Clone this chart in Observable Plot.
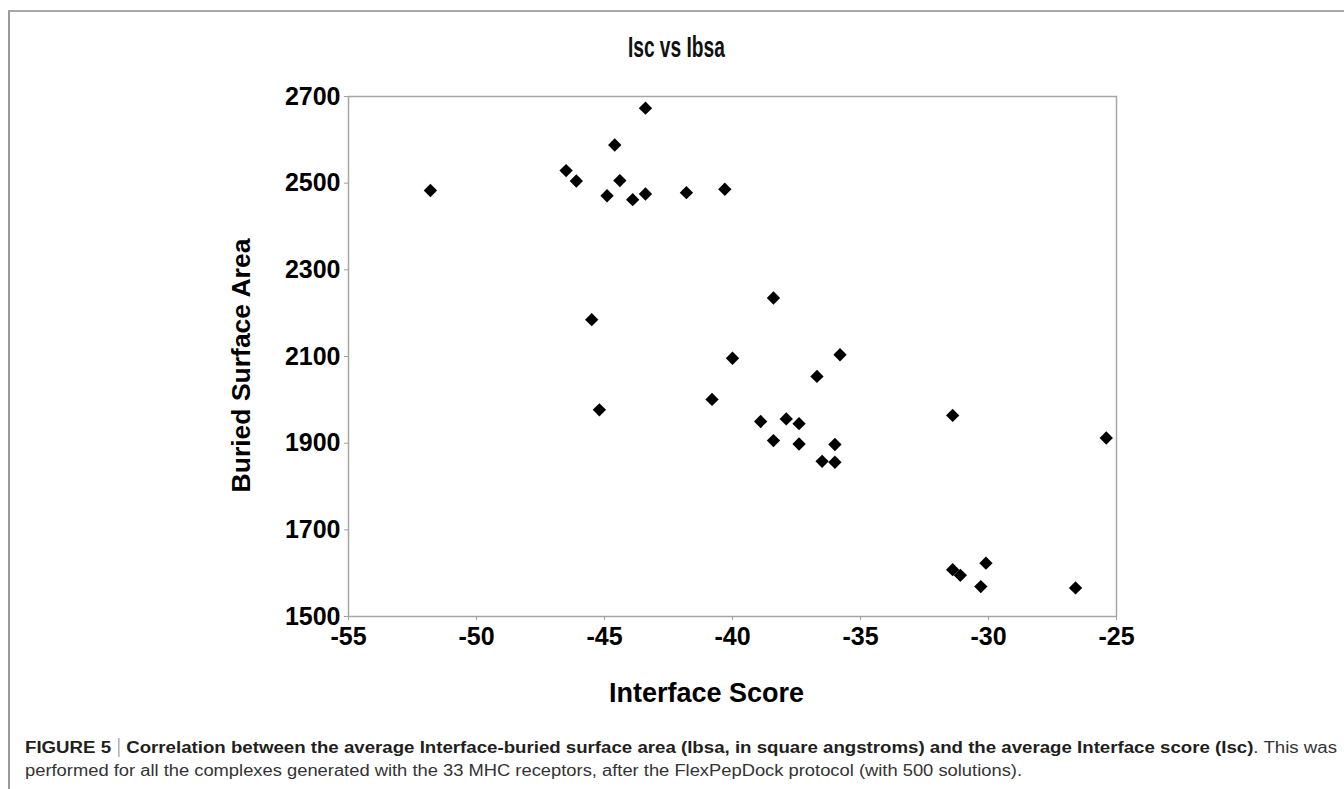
<!DOCTYPE html>
<html>
<head>
<meta charset="utf-8">
<script src="https://cdn.jsdelivr.net/npm/d3@7"></script>
<script src="https://cdn.jsdelivr.net/npm/@observablehq/plot@0.6"></script>
<style>
  html, body { margin: 0; padding: 0; background: #fff; }
  body { width: 1344px; height: 789px; overflow: hidden; position: relative; font-family: "Liberation Sans", Arial, Helvetica, sans-serif; }
  #frame { position: absolute; left: 8px; top: 10px; right: -10px; bottom: -10px; border-top: 2px solid #a8a8a8; border-left: 2px solid #9a9a9a; }
  #title { position: absolute; left: 0; width: 1352px; top: 33px; text-align: center; font-size: 29px; line-height: 28px; font-weight: bold; color: #111; }
  #title span { display: inline-block; transform: scaleX(0.66); transform-origin: center; }
  #chart { position: absolute; left: 0; top: 0; }
  #caption { position: absolute; left: 25px; top: 736px; font-size: 16px; line-height: 23px; color: #231f20; white-space: nowrap; }
  #caption div { transform-origin: left center; width: max-content; }
  #caption b { font-weight: bold; }
  #caption .bar { display: inline-block; width: 1px; height: 19px; background: #999; vertical-align: -4px; margin: 0 6px; }
  #caption .reg { color: #333; }
</style>
</head>
<body>
<div id="frame"></div>
<div id="chart"></div>
<div id="title"><span>Isc vs Ibsa</span></div>
<div id="caption">
  <div id="cap1"><b>FIGURE 5</b><span class="bar"></span><b>Correlation between the average Interface-buried surface area (Ibsa, in square angstroms) and the average Interface score (Isc)</b><span class="reg">. This was</span></div>
  <div id="cap2" class="reg">performed for all the complexes generated with the 33 MHC receptors, after the FlexPepDock protocol (with 500 solutions).</div>
</div>
<script>
// Interface score (Isc) for each complex
const interfaceScore = [
  -51.8, -46.5, -46.1, -44.6, -44.9, -44.4, -43.9, -43.4, -43.4, -41.8, -40.3,
  -45.5, -38.4, -40.0, -45.2, -40.8, -38.9, -38.4, -37.9, -37.4, -37.4, -36.7,
  -35.8, -36.0, -36.5, -36.0, -31.4, -25.4, -31.4, -31.1, -30.1, -30.3, -26.6
];
// Buried surface area (Ibsa) for each complex
const buriedSurfaceArea = [
  2483, 2529, 2505, 2588, 2471, 2506, 2462, 2673, 2475, 2478, 2486,
  2185, 2235, 2096, 1977, 2001, 1950, 1906, 1956, 1945, 1898, 2054,
  2104, 1897, 1858, 1856, 1964, 1912, 1608, 1595, 1623, 1569, 1566
];
const xTicks = [-55, -50, -45, -40, -35, -30, -25];
const yTicks = [1500, 1700, 1900, 2100, 2300, 2500, 2700];
const xLabel = "Interface Score";
const yLabel = "Buried Surface Area";

const data = interfaceScore.map((x, i) => ({x, y: buriedSurfaceArea[i]}));

const chart = Plot.plot({
  width: 1344,
  height: 720,
  marginLeft: 348,
  marginRight: 228,
  marginTop: 96,
  marginBottom: 104,
  style: {fontFamily: "Liberation Sans, Arial, sans-serif", background: "transparent", overflow: "visible", color: "#000"},
  x: {domain: [-55, -25]},
  y: {domain: [1500, 2700]},
  marks: [
    Plot.frame({stroke: "#a6a6a6", strokeWidth: 1.5}),
    Plot.axisX({ticks: xTicks, tickSize: 4, tickPadding: 7, tickFormat: d => String(d), fontSize: 25, fontWeight: "bold", fill: "#000", stroke: "#a0a0a0", label: null}),
    Plot.axisY({ticks: yTicks, tickSize: 4, tickPadding: 4, tickFormat: d => String(d), fontSize: 25, fontWeight: "bold", fill: "#000", stroke: "#a0a0a0", label: null}),
    Plot.dot(data, {x: "x", y: "y", symbol: "diamond2", r: 6, fill: "#000", stroke: "none"}),
    Plot.text([yLabel], {text: d => d, frameAnchor: "left", textAnchor: "middle", lineAnchor: "middle", dx: -107, dy: 9, rotate: -90, fontSize: 26.5, fontWeight: "bold", fill: "#000"}),
    Plot.text([xLabel], {text: d => d, frameAnchor: "bottom", textAnchor: "middle", lineAnchor: "middle", dx: -26, dy: 77, fontSize: 27, fontWeight: "bold", fill: "#000"})
  ]
});
document.getElementById("chart").appendChild(chart);

// fit caption lines to the reference widths
const c1 = document.getElementById("cap1");
const c2 = document.getElementById("cap2");
const w1 = c1.getBoundingClientRect().width;
const w2 = c2.getBoundingClientRect().width;
c1.style.transform = `scaleX(${1312 / w1})`;
c2.style.transform = `scaleX(${997 / w2})`;
</script>
</body>
</html>
